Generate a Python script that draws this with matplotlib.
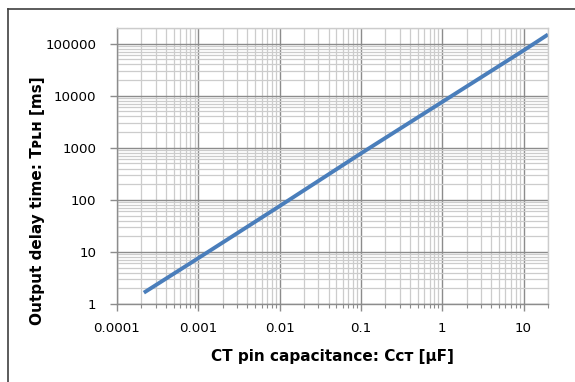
import matplotlib
matplotlib.use("Agg")
import matplotlib.pyplot as plt
from matplotlib.lines import Line2D
from matplotlib.ticker import LogLocator, FixedLocator, FixedFormatter, NullFormatter

# CT pin capacitance [uF] vs output delay time [ms]
capacitance_uF = [0.000214, 0.001, 0.01, 0.1, 1, 10, 20]
delay_ms = [1.65, 7.6, 76, 780, 7600, 74000, 150000]

x_ticks = [0.0001, 0.001, 0.01, 0.1, 1, 10]
x_tick_labels = ["0.0001", "0.001", "0.01", "0.1", "1", "10"]
y_ticks = [1, 10, 100, 1000, 10000, 100000]
y_tick_labels = ["1", "10", "100", "1000", "10000", "100000"]

W, H = 575, 382
fig = plt.figure(figsize=(W / 100, H / 100), dpi=100)
fig.patch.set_facecolor("white")

# outer chart frame: only its left and top edges fall inside the canvas
frame_x, frame_y = 7.5 / W, 1 - 8.5 / H
fig.lines.append(Line2D([frame_x, frame_x], [-0.05, frame_y], transform=fig.transFigure,
                        color="#404040", linewidth=1.2))
fig.lines.append(Line2D([frame_x, 1.05], [frame_y, frame_y], transform=fig.transFigure,
                        color="#404040", linewidth=1.2))

left, right, top, bottom = 117, 548, 28, 304
ax = fig.add_axes([left / W, 1 - bottom / H, (right - left) / W, (bottom - top) / H])
ax.set_xscale("log")
ax.set_yscale("log")
ax.set_xlim(0.0001, 20)
ax.set_ylim(1, 200000)

ax.xaxis.set_major_locator(FixedLocator(x_ticks))
ax.xaxis.set_major_formatter(FixedFormatter(x_tick_labels))
ax.yaxis.set_major_locator(FixedLocator(y_ticks))
ax.yaxis.set_major_formatter(FixedFormatter(y_tick_labels))
ax.xaxis.set_minor_locator(LogLocator(base=10, subs=range(2, 10), numticks=20))
ax.yaxis.set_minor_locator(LogLocator(base=10, subs=range(2, 10), numticks=20))
ax.xaxis.set_minor_formatter(NullFormatter())
ax.yaxis.set_minor_formatter(NullFormatter())

ax.grid(which="minor", color="#cccccc", linewidth=0.9)
ax.grid(which="major", color="#8c8c8c", linewidth=1.0)
ax.set_axisbelow(True)

for side in ("left", "bottom"):
    ax.spines[side].set_color("#8c8c8c")
    ax.spines[side].set_linewidth(1.0)
for side in ("top", "right"):
    ax.spines[side].set_color("#cccccc")
    ax.spines[side].set_linewidth(1.0)

ax.tick_params(axis="x", which="major", direction="out", length=5, width=1,
               color="#8c8c8c", labelsize=9.6, pad=8, labelcolor="black")
ax.tick_params(axis="x", which="minor", direction="out", length=3, width=0.8,
               color="#8c8c8c")
ax.tick_params(axis="y", which="major", direction="out", length=5, width=1,
               color="#8c8c8c", labelsize=9.6, pad=10, labelcolor="black")
ax.tick_params(axis="y", which="minor", length=0)

ax.plot(capacitance_uF, delay_ms, color="#4a7ebb", linewidth=2.8,
        solid_capstyle="butt", clip_on=True)

fig.text(332 / W, 1 - 357 / H, "CT pin capacitance: C\u1d04\u1d1b [µF]",
         ha="center", va="center", fontsize=11, fontweight="bold")
fig.text(38 / W, 1 - 201 / H, "Output delay time: T\u1d18\u029f\u029c [ms]",
         ha="center", va="center", rotation=90, fontsize=11, fontweight="bold")

fig.savefig("out.png", dpi=100)
